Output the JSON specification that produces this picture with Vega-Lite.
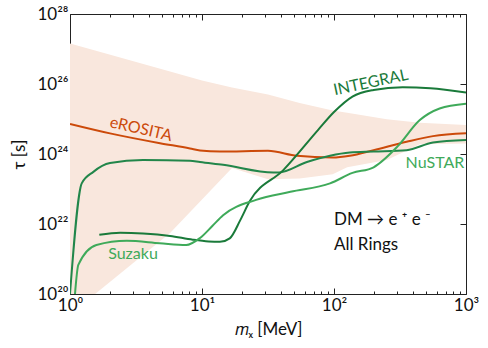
{
  "$schema": "https://vega.github.io/schema/vega-lite/v6.json",
  "width": 396,
  "height": 280,
  "autosize": {"type": "none"},
  "padding": {"left": 70, "top": 14, "right": 22, "bottom": 54},
  "background": "white",
  "config": {
    "font": "Lato",
    "view": {"stroke": "#222", "strokeWidth": 1},
    "axis": {"domain": false, "grid": false, "tickColor": "#222", "tickWidth": 1, "labelColor": "#111", "labelFont": "Lato", "labelFontSize": 17, "titleFont": "Lato", "titleFontSize": 17, "titleFontWeight": "normal", "titleColor": "#111", "zindex": 1}
  },
  "datasets": {
    "band": [
      {"m": 1, "lo": 1e20, "hi": 1.445e27},
      {"m": 1.549, "lo": 1e20, "hi": 9.12e26},
      {"m": 5.728, "lo": 5.5e21, "hi": 2.29e26},
      {"m": 10, "lo": 5.0e22, "hi": 1.26e26},
      {"m": 16.87, "lo": 3.98e23, "hi": 7.94e25},
      {"m": 31.62, "lo": 1.9e23, "hi": 5.0e25},
      {"m": 54.95, "lo": 2.0e23, "hi": 2.88e25},
      {"m": 97.7, "lo": 2.63e23, "hi": 1.74e25},
      {"m": 125.9, "lo": 4.17e23, "hi": 1.51e25},
      {"m": 251.2, "lo": 6.76e23, "hi": 9.77e24},
      {"m": 446.7, "lo": 1.9e24, "hi": 7.76e24},
      {"m": 1000, "lo": 2.0e24, "hi": 6.76e24}
    ],
    "lines": [
      {"series": "eROSITA", "m": 1, "tau": 7.24e24},
      {"series": "eROSITA", "m": 2.009, "tau": 3.89e24},
      {"series": "eROSITA", "m": 4.808, "tau": 2.04e24},
      {"series": "eROSITA", "m": 8.11, "tau": 1.445e24},
      {"series": "eROSITA", "m": 9.66, "tau": 1.26e24},
      {"series": "eROSITA", "m": 13.68, "tau": 1.175e24},
      {"series": "eROSITA", "m": 31.62, "tau": 1.23e24},
      {"series": "eROSITA", "m": 52.48, "tau": 8.91e23},
      {"series": "eROSITA", "m": 97.72, "tau": 7.94e23},
      {"series": "eROSITA", "m": 131.8, "tau": 8.91e23},
      {"series": "eROSITA", "m": 199.5, "tau": 1.29e24},
      {"series": "eROSITA", "m": 354.8, "tau": 2.24e24},
      {"series": "eROSITA", "m": 562.3, "tau": 3.24e24},
      {"series": "eROSITA", "m": 1000, "tau": 3.89e24},
      {"series": "NuSTAR", "m": 1.0, "tau": 1e20},
      {"series": "NuSTAR", "m": 1.227, "tau": 1.45e23},
      {"series": "NuSTAR", "m": 1.503, "tau": 3.09e23},
      {"series": "NuSTAR", "m": 2.009, "tau": 5.5e23},
      {"series": "NuSTAR", "m": 3.573, "tau": 6.76e23},
      {"series": "NuSTAR", "m": 8.11, "tau": 6.46e23},
      {"series": "NuSTAR", "m": 9.66, "tau": 5.89e23},
      {"series": "NuSTAR", "m": 14.45, "tau": 4.9e23},
      {"series": "NuSTAR", "m": 34.67, "tau": 2.95e23},
      {"series": "NuSTAR", "m": 38.02, "tau": 2.95e23},
      {"series": "NuSTAR", "m": 62.37, "tau": 5.89e23},
      {"series": "NuSTAR", "m": 93.33, "tau": 8.91e23},
      {"series": "NuSTAR", "m": 131.8, "tau": 1.1e24},
      {"series": "NuSTAR", "m": 199.5, "tau": 1.175e24},
      {"series": "NuSTAR", "m": 354.8, "tau": 1.29e24},
      {"series": "NuSTAR", "m": 562.3, "tau": 2.14e24},
      {"series": "NuSTAR", "m": 1000, "tau": 2.51e24},
      {"series": "INTEGRAL", "m": 1.667, "tau": 4.9e21},
      {"series": "INTEGRAL", "m": 2.399, "tau": 5.62e21},
      {"series": "INTEGRAL", "m": 3.573, "tau": 5.37e21},
      {"series": "INTEGRAL", "m": 5.728, "tau": 4.57e21},
      {"series": "INTEGRAL", "m": 8.511, "tau": 3.55e21},
      {"series": "INTEGRAL", "m": 11.22, "tau": 3.16e21},
      {"series": "INTEGRAL", "m": 13.68, "tau": 3.09e21},
      {"series": "INTEGRAL", "m": 16.22, "tau": 3.89e21},
      {"series": "INTEGRAL", "m": 19.5, "tau": 1.29e22},
      {"series": "INTEGRAL", "m": 22.91, "tau": 4.37e22},
      {"series": "INTEGRAL", "m": 41.3, "tau": 3.47e23},
      {"series": "INTEGRAL", "m": 75.86, "tau": 4.9e24},
      {"series": "INTEGRAL", "m": 100, "tau": 1.58e25},
      {"series": "INTEGRAL", "m": 138, "tau": 4.37e25},
      {"series": "INTEGRAL", "m": 199.5, "tau": 6.76e25},
      {"series": "INTEGRAL", "m": 331.1, "tau": 8.13e25},
      {"series": "INTEGRAL", "m": 537, "tau": 7.59e25},
      {"series": "INTEGRAL", "m": 1000, "tau": 5.75e25},
      {"series": "Suzaku", "m": 1.091, "tau": 1e20},
      {"series": "Suzaku", "m": 1.156, "tau": 6.76e20},
      {"series": "Suzaku", "m": 1.585, "tau": 2.51e21},
      {"series": "Suzaku", "m": 2.692, "tau": 3.31e21},
      {"series": "Suzaku", "m": 4.786, "tau": 2.82e21},
      {"series": "Suzaku", "m": 7.586, "tau": 2.51e21},
      {"series": "Suzaku", "m": 9.661, "tau": 3.98e21},
      {"series": "Suzaku", "m": 12.02, "tau": 8.9e21},
      {"series": "Suzaku", "m": 14.45, "tau": 1.78e22},
      {"series": "Suzaku", "m": 25.7, "tau": 4.9e22},
      {"series": "Suzaku", "m": 46.77, "tau": 8.32e22},
      {"series": "Suzaku", "m": 93.33, "tau": 1.445e23},
      {"series": "Suzaku", "m": 138, "tau": 2.88e23},
      {"series": "Suzaku", "m": 199.5, "tau": 4.17e23},
      {"series": "Suzaku", "m": 302, "tau": 1.62e24},
      {"series": "Suzaku", "m": 446.7, "tau": 9.33e24},
      {"series": "Suzaku", "m": 631, "tau": 2.0e25},
      {"series": "Suzaku", "m": 1000, "tau": 2.75e25}
    ]
  },
  "layer": [
    {
      "data": {"name": "band"},
      "mark": {"type": "area", "color": "#f9e7dd", "opacity": 1, "clip": true},
      "encoding": {
        "x": {"field": "m", "type": "quantitative", "scale": {"type": "log", "domain": [1, 1000], "nice": false},
          "axis": {"orient": "bottom", "values": [1,2,3,4,5,6,7,8,9,10,20,30,40,50,60,70,80,90,100,200,300,400,500,600,700,800,900,1000],
            "tickSize": {"condition": {"test": "datum.value == 1 || datum.value == 10 || datum.value == 100 || datum.value == 1000", "value": -6}, "value": -3},
            "labelExpr": "datum.value == 1 ? '10⁰' : datum.value == 10 ? '10¹' : datum.value == 100 ? '10²' : datum.value == 1000 ? '10³' : ''",
            "labelFlush": false, "labelOverlap": false, "labelPadding": 9, "title": "𝑚ᵪ [MeV]", "titlePadding": 5}},
        "y": {"field": "lo", "type": "quantitative", "scale": {"type": "log", "domain": [1e20, 1e28], "nice": false},
          "axis": {"orient": "left", "values": [1e20, 1e22, 1e24, 1e26, 1e28], "tickSize": -6,
            "labelExpr": "datum.value == 1e20 ? '10²⁰' : datum.value == 1e22 ? '10²²' : datum.value == 1e24 ? '10²⁴' : datum.value == 1e26 ? '10²⁶' : '10²⁸'",
            "labelFlush": false, "labelOverlap": false, "labelPadding": 8, "title": "τ [s]", "titlePadding": 8}},
        "y2": {"field": "hi"}
      }
    },
    {
      "data": {"name": "lines"},
      "mark": {"type": "line", "strokeWidth": 2, "clip": true, "interpolate": "monotone"},
      "encoding": {
        "x": {"field": "m", "type": "quantitative", "scale": {"type": "log", "domain": [1, 1000], "nice": false},
          "axis": {"orient": "top", "values": [1,2,3,4,5,6,7,8,9,10,20,30,40,50,60,70,80,90,100,200,300,400,500,600,700,800,900,1000],
            "tickSize": {"condition": {"test": "datum.value == 1 || datum.value == 10 || datum.value == 100 || datum.value == 1000", "value": -6}, "value": -3},
            "labels": false, "title": null}},
        "y": {"field": "tau", "type": "quantitative", "scale": {"type": "log", "domain": [1e20, 1e28], "nice": false},
          "axis": {"orient": "right", "values": [1e20, 1e22, 1e24, 1e26, 1e28], "tickSize": -6, "labels": false, "title": null}},
        "color": {"field": "series", "type": "nominal", "legend": null,
          "scale": {"domain": ["eROSITA", "NuSTAR", "INTEGRAL", "Suzaku"], "range": ["#cc4a0a", "#22864a", "#1a7a3a", "#3faa5a"]}},
        "order": {"field": "m", "type": "quantitative"}
      }
    },
    {
      "data": {"values": [{"label": "eROSITA", "m": 3.45, "tau": 5.13e24}]},
      "mark": {"type": "text", "color": "#cc4a0a", "fontSize": 16, "angle": 13, "align": "center", "baseline": "middle"},
      "encoding": {"x": {"field": "m", "type": "quantitative", "axis": null}, "y": {"field": "tau", "type": "quantitative", "axis": null}, "text": {"field": "label"}}
    },
    {
      "data": {"values": [{"label": "INTEGRAL", "m": 190, "tau": 1.1e26}]},
      "mark": {"type": "text", "color": "#1a7a3a", "fontSize": 16, "angle": -12, "align": "center", "baseline": "middle"},
      "encoding": {"x": {"field": "m", "type": "quantitative", "axis": null}, "y": {"field": "tau", "type": "quantitative", "axis": null}, "text": {"field": "label"}}
    },
    {
      "data": {"values": [{"label": "NuSTAR", "m": 582, "tau": 5.4e23}, {"label": "Suzaku", "m": 3.0, "tau": 1.4e21}]},
      "mark": {"type": "text", "color": "#3faa5a", "fontSize": 16, "align": "center", "baseline": "middle"},
      "encoding": {"x": {"field": "m", "type": "quantitative", "axis": null}, "y": {"field": "tau", "type": "quantitative", "axis": null}, "text": {"field": "label"}}
    },
    {
      "data": {"values": [{"label": "DM → e ⁺ e ⁻", "m": 100, "tau": 1.29e22}, {"label": "All Rings", "m": 100, "tau": 2.51e21}]},
      "mark": {"type": "text", "color": "#111", "fontSize": 17, "align": "left", "baseline": "middle"},
      "encoding": {"x": {"field": "m", "type": "quantitative", "axis": null}, "y": {"field": "tau", "type": "quantitative", "axis": null}, "text": {"field": "label"}}
    }
  ],
  "resolve": {"axis": {"x": "independent", "y": "independent"}}
}
